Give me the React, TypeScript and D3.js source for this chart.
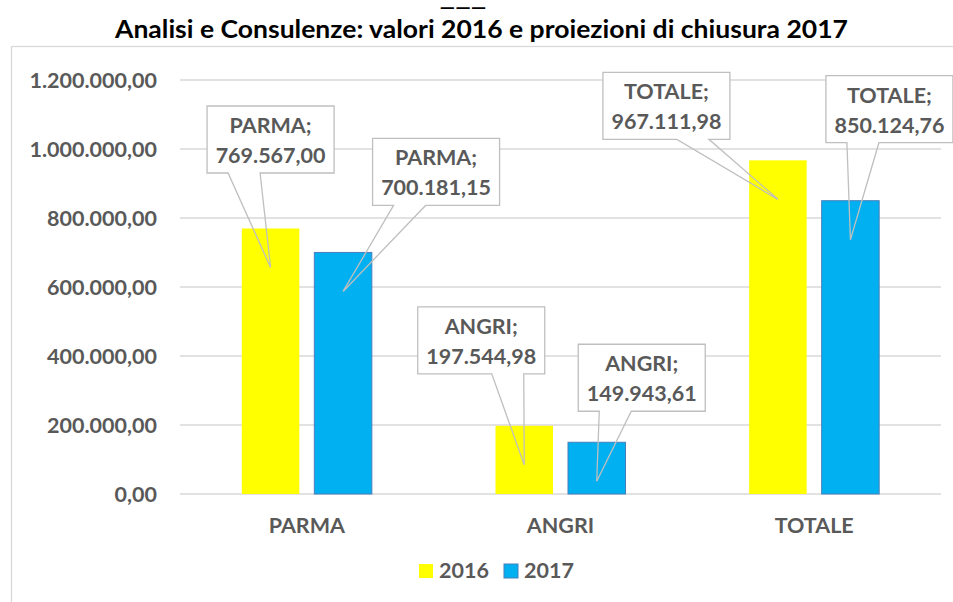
import React, { useRef, useEffect } from 'react';
import * as d3 from 'd3';

const categories = ['PARMA', 'ANGRI', 'TOTALE'];
const seriesNames = ['2016', '2017'];
const values2016 = [769567.0, 197544.98, 967111.98];
const values2017 = [700181.15, 149943.61, 850124.76];
const yTicks = [0, 200000, 400000, 600000, 800000, 1000000, 1200000];

// callout placement: box centre offset from bar centre, box bottom offset from bar top
const calloutDx2016 = [0, -43, -111.5];
const calloutDy2016 = [-55.5, -52, -21];
const calloutDx2017 = [93, 45, 39];
const calloutDy2017 = [-47, -31, -58];

const TITLE = 'Analisi e Consulenze: valori 2016 e proiezioni di chiusura 2017';
const FONT = 'Lato, "Open Sans", sans-serif';
const GREY = '#595959';
const COLORS = ['#FFFF00', '#00B0F0'];

const it = d3.formatLocale({ decimal: ',', thousands: '.', grouping: [3], currency: ['€', ''] });
const fmt = it.format(',.2f');

export default function App() {
  const svgRef = useRef<SVGSVGElement>(null);
  const width = 953;
  const height = 602;

  useEffect(() => {
    if (!svgRef.current) return;
    const svg = d3.select(svgRef.current);
    svg.selectAll('*').remove();

    // outer frame
    svg.append('rect')
      .attr('x', 11.5).attr('y', 46.5)
      .attr('width', 1000).attr('height', 600)
      .attr('fill', '#fff')
      .attr('stroke', '#d9d9d9').attr('stroke-width', 1.3);

    // stray underscore above title
    svg.append('text')
      .attr('x', 463).attr('y', 6)
      .attr('text-anchor', 'middle')
      .attr('textLength', 47).attr('lengthAdjust', 'spacingAndGlyphs')
      .style('font-family', FONT).style('font-weight', 700).style('font-size', '22px')
      .attr('fill', '#000')
      .text('___');

    svg.append('text')
      .attr('x', 481.5).attr('y', 38)
      .attr('text-anchor', 'middle')
      .attr('textLength', 733).attr('lengthAdjust', 'spacingAndGlyphs')
      .style('font-family', FONT).style('font-weight', 700).style('font-size', '24px')
      .attr('fill', '#000')
      .text(TITLE);

    const x = d3.scaleBand().domain(categories).range([180, 941]);
    const inner = d3.scaleBand().domain(seriesNames).range([0, 130]).paddingInner(0.207);
    const y = d3.scaleLinear().domain([0, 1200000]).range([494, 80]);

    const groupX = (c: string) => (x(c) as number) + x.bandwidth() / 2 - 65;

    // gridlines
    svg.append('g')
      .selectAll('line')
      .data(yTicks)
      .join('line')
      .attr('x1', 180).attr('x2', 941)
      .attr('y1', d => y(d)).attr('y2', d => y(d))
      .attr('stroke', '#d9d9d9').attr('stroke-width', 1.3);

    // y labels
    svg.append('g')
      .selectAll('text')
      .data(yTicks)
      .join('text')
      .attr('x', 157).attr('y', d => y(d) + 7.5)
      .attr('text-anchor', 'end')
      .style('font-family', FONT).style('font-weight', 700).style('font-size', '21.5px')
      .attr('fill', GREY)
      .text(d => fmt(d));

    // x labels
    svg.append('g')
      .selectAll('text')
      .data(categories)
      .join('text')
      .attr('x', d => (x(d) as number) + x.bandwidth() / 2)
      .attr('y', 533)
      .attr('text-anchor', 'middle')
      .style('font-family', FONT).style('font-weight', 700).style('font-size', '21.5px')
      .attr('fill', GREY)
      .text(d => d);

    const seriesData = [values2016, values2017];
    const bars = seriesNames.flatMap((s, si) =>
      categories.map((c, ci) => ({ s, si, c, ci, v: seriesData[si][ci] }))
    );

    svg.append('g')
      .selectAll('rect')
      .data(bars)
      .join('rect')
      .attr('x', d => groupX(d.c) + (inner(d.s) as number))
      .attr('y', d => y(d.v))
      .attr('width', inner.bandwidth())
      .attr('height', d => y(0) - y(d.v))
      .attr('fill', d => COLORS[d.si])
      .attr('stroke', d => (d.si === 1 ? '#4a7ebb' : 'none'))
      .attr('stroke-width', 1);

    // callouts
    const boxW = 127;
    const boxH = 67;
    const dxs = [calloutDx2016, calloutDx2017];
    const dys = [calloutDy2016, calloutDy2017];
    const cg = svg.append('g');
    bars.forEach(d => {
      const cx = groupX(d.c) + (inner(d.s) as number) + inner.bandwidth() / 2;
      const top = y(d.v);
      const tipX = cx;
      const tipY = top + 39;
      const bcx = cx + dxs[d.si][d.ci];
      const left = bcx - boxW / 2;
      const bottom = top + dys[d.si][d.ci];
      const topY = bottom - boxH;
      const right = tipX > bcx + 5;
      const b1 = left + (right ? 74 : 21);
      const b2 = left + (right ? 106 : 53);

      cg.append('rect')
        .attr('x', left).attr('y', topY)
        .attr('width', boxW).attr('height', boxH)
        .attr('fill', '#fff');

      const p = d3.path();
      p.moveTo(left, topY);
      p.lineTo(left + boxW, topY);
      p.lineTo(left + boxW, bottom);
      p.lineTo(b2, bottom);
      p.lineTo(tipX, tipY);
      p.lineTo(b1, bottom);
      p.lineTo(left, bottom);
      p.closePath();
      cg.append('path')
        .attr('d', p.toString())
        .attr('fill', 'none')
        .attr('stroke', '#bfbfbf').attr('stroke-width', 1.3)
        .attr('stroke-linejoin', 'miter');

      const t = cg.append('text')
        .attr('text-anchor', 'middle')
        .style('font-family', FONT).style('font-weight', 700).style('font-size', '21.5px')
        .attr('fill', GREY);
      t.append('tspan').attr('x', bcx).attr('y', topY + 27).text(d.c + ';');
      t.append('tspan').attr('x', bcx).attr('y', topY + 57).text(fmt(d.v));
    });

    // legend
    const legendX = [419, 504];
    const lg = svg.append('g');
    seriesNames.forEach((s, i) => {
      lg.append('rect')
        .attr('x', legendX[i]).attr('y', 564)
        .attr('width', 14).attr('height', 14)
        .attr('fill', COLORS[i])
        .attr('stroke', i === 1 ? '#4a7ebb' : 'none')
        .attr('stroke-width', 1);
      lg.append('text')
        .attr('x', legendX[i] + 20).attr('y', 578)
        .style('font-family', FONT).style('font-weight', 700).style('font-size', '21.5px')
        .attr('fill', GREY)
        .text(s);
    });
  }, []);

  return (
    <svg
      ref={svgRef}
      width={width}
      height={height}
      style={{ position: 'absolute', left: 0, top: 0, background: '#fff' }}
    />
  );
}
